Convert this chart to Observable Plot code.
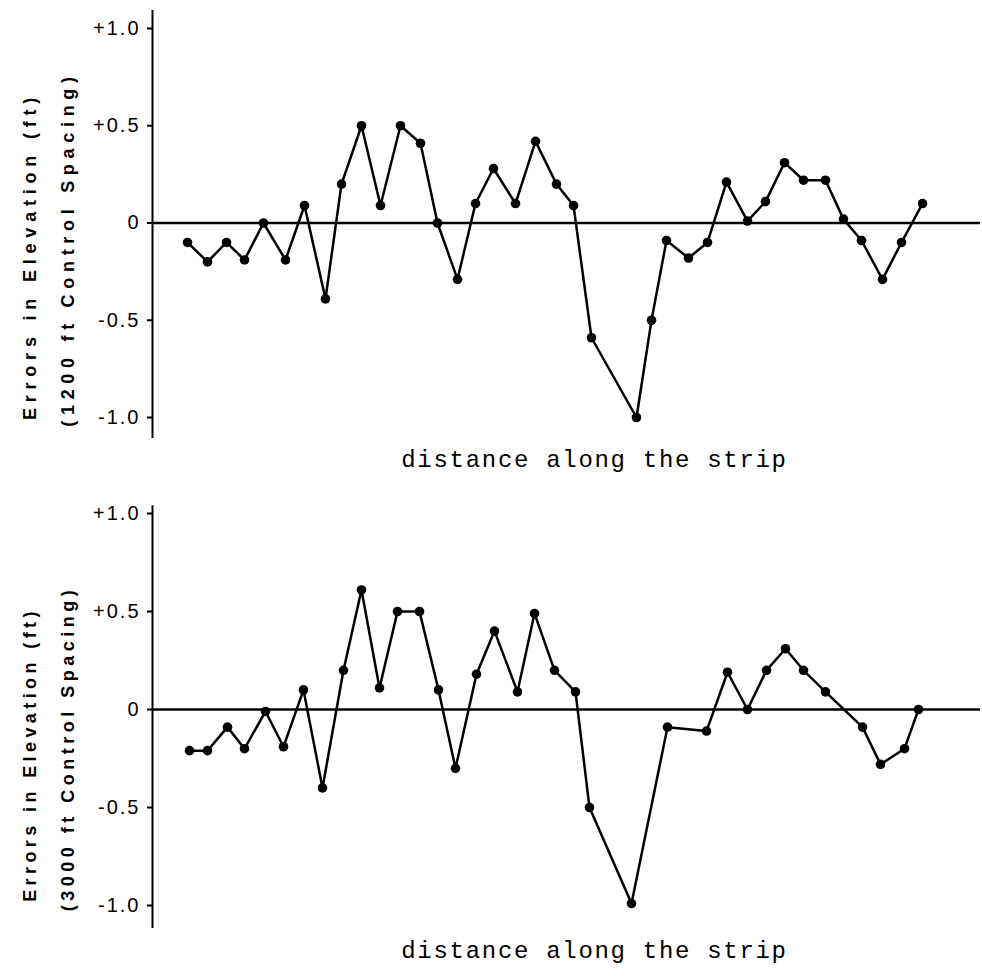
<!DOCTYPE html>
<html>
<head>
<meta charset="utf-8">
<script src="https://cdn.jsdelivr.net/npm/d3@7"></script>
<script src="https://cdn.jsdelivr.net/npm/@observablehq/plot@0.6"></script>
<style>
  html, body { margin: 0; padding: 0; background: #fff; }
  #chart { width: 982px; }
  #chart svg { display: block; }
</style>
</head>
<body>
<div id="chart"></div>
<script>
// distance along the strip (arbitrary units) and elevation errors (ft)
const topDistance = [3.5, 5.5, 7.4, 9.2, 11.1, 13.3, 15.2, 17.3, 18.9, 20.9, 22.8, 24.8, 26.8, 28.5, 30.5, 32.3, 34.1, 36.3, 38.3, 40.4, 42.1, 43.9, 48.4, 49.9, 51.4, 53.6, 55.5, 57.4, 59.5, 61.3, 63.2, 65.1, 67.3, 69.1, 70.9, 73.0, 74.9, 77.0];
const topError = [-0.10, -0.20, -0.10, -0.19, 0.00, -0.19, 0.09, -0.39, 0.20, 0.50, 0.09, 0.50, 0.41, 0.00, -0.29, 0.10, 0.28, 0.10, 0.42, 0.20, 0.09, -0.59, -1.00, -0.50, -0.09, -0.18, -0.10, 0.21, 0.01, 0.11, 0.31, 0.22, 0.22, 0.02, -0.09, -0.29, -0.10, 0.10];

const bottomDistance = [3.7, 5.5, 7.5, 9.2, 11.3, 13.1, 15.1, 17.0, 19.1, 20.9, 22.7, 24.5, 26.7, 28.6, 30.3, 32.4, 34.2, 36.5, 38.2, 40.2, 42.3, 43.7, 47.9, 51.5, 55.4, 57.5, 59.5, 61.4, 63.3, 65.1, 67.3, 71.0, 72.8, 75.2, 76.6];
const bottomError = [-0.21, -0.21, -0.09, -0.20, -0.01, -0.19, 0.10, -0.40, 0.20, 0.61, 0.11, 0.50, 0.50, 0.10, -0.30, 0.18, 0.40, 0.09, 0.49, 0.20, 0.09, -0.50, -0.99, -0.09, -0.11, 0.19, 0.00, 0.20, 0.31, 0.20, 0.09, -0.09, -0.28, -0.20, 0.00];

const yTicks = [-1, -0.5, 0, 0.5, 1];
const yTickLabels = ["-1.0", "-0.5", "0", "+0.5", "+1.0"];
const xDomain = [0, 82.8];
const xLabel = "distance along the strip";
const yLabelLine1 = "Errors in Elevation (ft)";
const topYLabelLine2 = "(1200 ft Control Spacing)";
const bottomYLabelLine2 = "(3000 ft Control Spacing)";

function panel(dist, err, label2, opts) {
  const data = dist.map((d, i) => ({d, e: err[i]}));
  const svg = Plot.plot({
    width: 982,
    height: opts.height,
    marginLeft: 152,
    marginRight: 2,
    marginTop: opts.marginTop,
    marginBottom: opts.marginBottom,
    style: {fontFamily: "Liberation Sans, Arial, sans-serif", background: "#fff", color: "#000", overflow: "visible"},
    x: {type: "linear", domain: xDomain, axis: null},
    y: {type: "linear", domain: [-1, 1], axis: null},
    marks: [
      Plot.ruleX([0], {y1: opts.axisTop, y2: opts.axisBottom, stroke: "#000", strokeWidth: 2}),
      Plot.axisY(yTicks, {label: null, tickFormat: d => yTickLabels[yTicks.indexOf(d)], tickSize: 5, tickPadding: 7, fontSize: 20, stroke: "#000", strokeWidth: 2, fill: "#000"}),
      Plot.ruleY([0], {stroke: "#000", strokeWidth: 2.6}),
      Plot.line(data, {x: "d", y: "e", stroke: "#000", strokeWidth: 2.5}),
      Plot.dot(data, {x: "d", y: "e", r: 4.8, fill: "#000", stroke: "none"}),
      Plot.text([yLabelLine1], {frameAnchor: "left", textAnchor: "middle", rotate: -90, dx: -122, dy: opts.label1dy, fontSize: 18, fontWeight: "bold", fill: "#000"}),
      Plot.text([label2], {frameAnchor: "left", textAnchor: "middle", rotate: -90, dx: -84, dy: opts.label2dy, fontSize: 18, fontWeight: "bold", fill: "#000"}),
      Plot.text([xLabel], {frameAnchor: "bottom", dx: 28, dy: opts.xlabeldy, fontSize: 24, fontFamily: "Liberation Mono, Courier New, monospace", fill: "#000"})
    ]
  });
  const s = d3.select(svg);
  const spacing = {[yLabelLine1]: opts.sp1, [label2]: opts.sp2, [xLabel]: "1.7px"};
  s.selectAll("text").each(function() {
    const sp = spacing[this.textContent];
    if (sp) this.style.letterSpacing = sp;
  });
  s.selectAll('g[aria-label="y-axis tick label"] text').style("letter-spacing", "2px");
  return svg;
}

const chart = document.getElementById("chart");
chart.append(panel(topDistance, topError, topYLabelLine2, {
  height: 480, marginTop: 28, marginBottom: 63,
  axisTop: 1.093, axisBottom: -1.108,
  label1dy: 33, label2dy: 26, xlabeldy: 49, sp1: "5.8px", sp2: "5.7px"
}));
chart.append(panel(bottomDistance, bottomError, bottomYLabelLine2, {
  height: 496, marginTop: 33, marginBottom: 71,
  axisTop: 1.04, axisBottom: -1.117,
  label1dy: 45, label2dy: 39, xlabeldy: 52, sp1: "4.4px", sp2: "4.5px"
}));
</script>
</body>
</html>
